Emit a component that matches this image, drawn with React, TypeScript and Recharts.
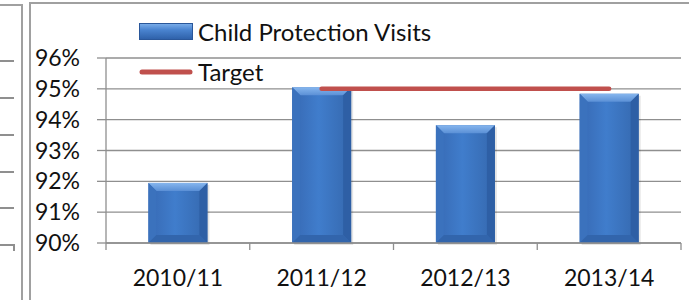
import React from "react";
import {
  ComposedChart,
  Bar,
  Line,
  XAxis,
  YAxis,
  CartesianGrid,
} from "recharts";

const categories = ["2010/11", "2011/12", "2012/13", "2013/14"];
const visits = [91.95, 95.05, 93.82, 94.84];
const target = [null, 95, 95, 95];
const yTicks = [90, 91, 92, 93, 94, 95, 96];
const seriesNames = { visits: "Child Protection Visits", target: "Target" };

const data = categories.map((c, i) => ({
  period: c,
  visits: visits[i],
  target: target[i],
}));

const FONT = "Lato, 'Open Sans', sans-serif";
const GRID = "#8f8f8f";
const FRAME = "#a0a0a0";
const W = 689;
const H = 300;
const PLOT_LEFT = 106;
const PLOT_RIGHT_MARGIN = 8;
const BAND = (W - PLOT_LEFT - PLOT_RIGHT_MARGIN) / categories.length;

const BevelBar = (props: any) => {
  const { x, y, width, height } = props;
  if (!height || height <= 0) return null;
  const b = Math.min(8, width / 4, height / 4);
  return (
    <g>
      <rect x={x + 2} y={y + 2} width={width} height={height} fill="#000" opacity={0.1} />
      <rect x={x} y={y} width={width} height={height} fill="url(#barBody)" />
      <polygon
        points={`${x},${y} ${x + width},${y} ${x + width - b},${y + b} ${x + b},${y + b}`}
        fill="url(#barTop)"
      />
      <polygon
        points={`${x},${y} ${x + b},${y + b} ${x + b},${y + height - b} ${x},${y + height}`}
        fill="#3b72bd"
      />
      <polygon
        points={`${x + width},${y} ${x + width - b},${y + b} ${x + width - b},${y + height - b} ${x + width},${y + height}`}
        fill="#2e5fa5"
      />
      <polygon
        points={`${x},${y + height} ${x + b},${y + height - b} ${x + width - b},${y + height - b} ${x + width},${y + height}`}
        fill="#3265ac"
      />
    </g>
  );
};

const XTick = (props: any) => {
  const { x, y, payload, index } = props;
  const half = BAND / 2;
  return (
    <g>
      <line x1={x - half} y1={y} x2={x - half} y2={y + 7} stroke={GRID} strokeWidth={1.3} />
      {index === categories.length - 1 && (
        <line x1={x + half} y1={y} x2={x + half} y2={y + 7} stroke={GRID} strokeWidth={1.3} />
      )}
      <text x={x} y={y + 43} textAnchor="middle" fontFamily={FONT} fontSize={23} fill="#111">
        {payload.value}
      </text>
    </g>
  );
};

const LegendBox = () => (
  <div
    style={{
      position: "absolute",
      left: 139,
      top: 20,
      fontFamily: FONT,
      fontSize: 24,
      color: "#111",
      lineHeight: "24px",
    }}
  >
    <div style={{ display: "flex", alignItems: "center", height: 24 }}>
      <svg width={54} height={18} style={{ marginRight: 5 }}>
        <defs>
          <linearGradient id="legendBar" x1="0" y1="0" x2="0" y2="1">
            <stop offset="0%" stopColor="#80b2ec" />
            <stop offset="40%" stopColor="#4a84d0" />
            <stop offset="100%" stopColor="#2c5ea6" />
          </linearGradient>
        </defs>
        <rect x={0} y={0} width={54} height={17} fill="url(#legendBar)" />
        <rect x={0.5} y={0.5} width={53} height={16} fill="none" stroke="#2a579a" />
      </svg>
      <span>{seriesNames.visits}</span>
    </div>
    <div style={{ display: "flex", alignItems: "center", height: 24, marginTop: 16 }}>
      <svg width={54} height={18} style={{ marginRight: 5 }}>
        <line x1={3} y1={9} x2={51} y2={9} stroke="#c0504d" strokeWidth={5} strokeLinecap="round" />
      </svg>
      <span>{seriesNames.target}</span>
    </div>
  </div>
);

const Frames = () => (
  <>
    <div style={{ position: "absolute", left: 0, top: 4, width: 23, height: 2, background: FRAME }} />
    <div style={{ position: "absolute", left: 21, top: 4, width: 2, height: 296, background: FRAME }} />
    {[60, 97, 134, 171, 207, 244].map((t) => (
      <div key={t} style={{ position: "absolute", left: 0, top: t, width: 14, height: 1.5, background: GRID }} />
    ))}
    <div style={{ position: "absolute", left: 13, top: 244, width: 1.5, height: 7, background: GRID }} />
    <div style={{ position: "absolute", left: 29, top: 2, width: 660, height: 2, background: FRAME }} />
    <div style={{ position: "absolute", left: 29, top: 2, width: 2, height: 298, background: FRAME }} />
  </>
);

export default function App() {
  return (
    <div style={{ position: "absolute", left: 0, top: 0, width: W, height: H, background: "#fff", overflow: "hidden" }}>
      <Frames />
      <div style={{ position: "absolute", left: 0, top: 0 }}>
        <ComposedChart
          width={W}
          height={H}
          data={data}
          margin={{ top: 58, right: PLOT_RIGHT_MARGIN, bottom: 0, left: 0 }}
          barCategoryGap="29.5%"
        >
          <defs>
            <linearGradient id="barBody" x1="0" y1="0" x2="1" y2="0">
              <stop offset="0%" stopColor="#3769b3" />
              <stop offset="45%" stopColor="#407dcc" />
              <stop offset="100%" stopColor="#3568ae" />
            </linearGradient>
            <linearGradient id="barTop" x1="0" y1="0" x2="0" y2="1">
              <stop offset="0%" stopColor="#86b6ee" />
              <stop offset="100%" stopColor="#5b90d6" />
            </linearGradient>
          </defs>
          <CartesianGrid vertical={false} stroke={GRID} strokeWidth={1.3} />
          <XAxis
            dataKey="period"
            height={H - 243}
            tickSize={0}
            tickMargin={0}
            tickLine={false}
            axisLine={{ stroke: GRID, strokeWidth: 1.3 }}
            tick={<XTick />}
            interval={0}
          />
          <YAxis
            width={PLOT_LEFT}
            domain={[90, 96]}
            ticks={yTicks}
            interval={0}
            tickFormatter={(v: number) => `${v}%`}
            tickSize={9}
            tickMargin={17}
            tickLine={{ stroke: GRID, strokeWidth: 1.3 }}
            axisLine={{ stroke: GRID, strokeWidth: 1.3 }}
            tick={{ fontFamily: FONT, fontSize: 23, fill: "#111" }}
          />
          <Bar dataKey="visits" name={seriesNames.visits} shape={<BevelBar />} isAnimationActive={false} />
          <Line
            dataKey="target"
            name={seriesNames.target}
            stroke="#c0504d"
            strokeWidth={4.5}
            strokeLinecap="round"
            dot={false}
            activeDot={false}
            isAnimationActive={false}
          />
        </ComposedChart>
      </div>
      <LegendBox />
    </div>
  );
}
